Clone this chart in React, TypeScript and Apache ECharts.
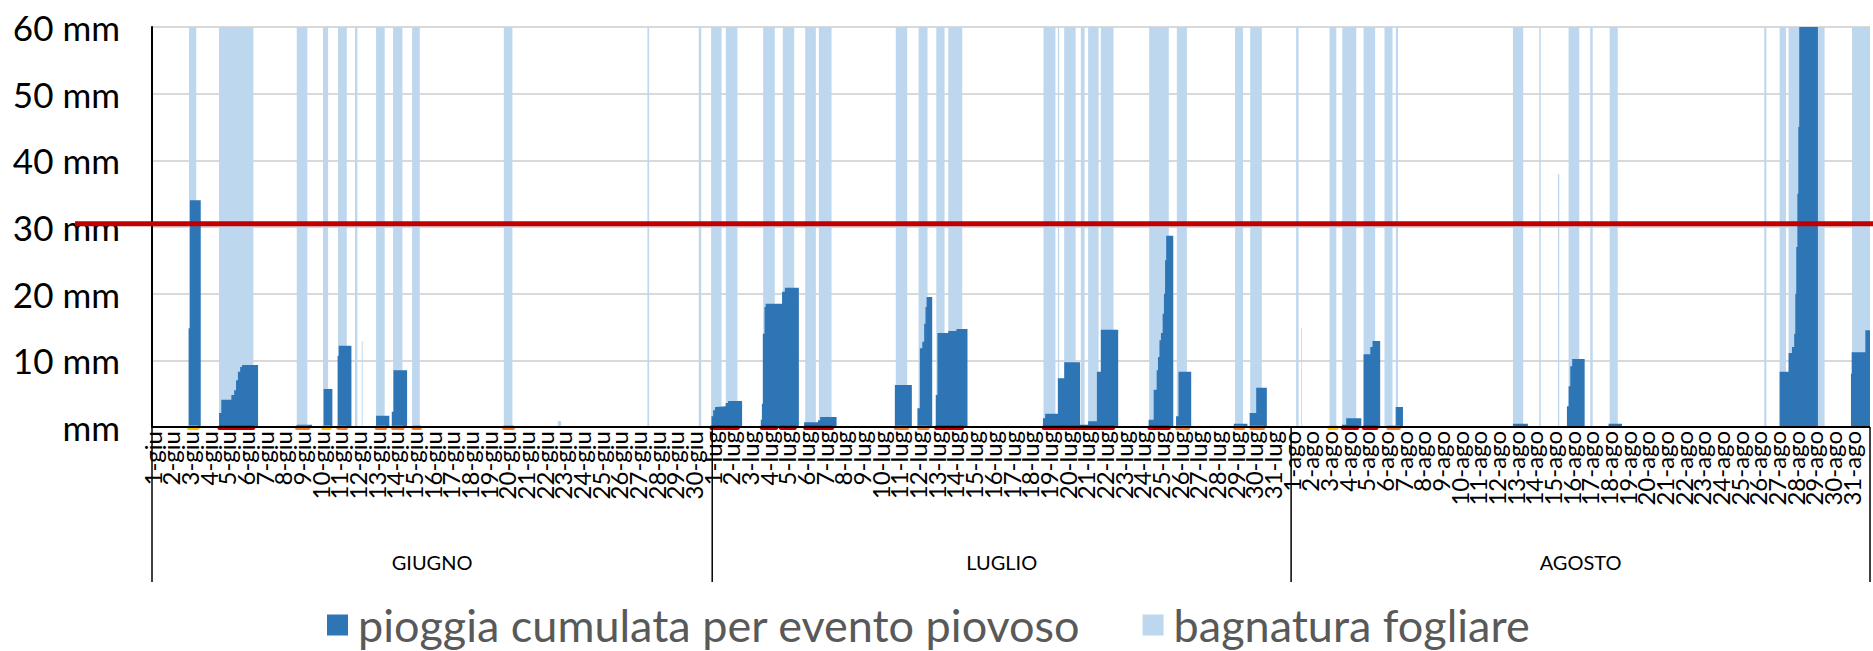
import React, { useEffect, useRef } from 'react';
import * as echarts from 'echarts';

// ---- categories / labels ----
const monthNames = ['GIUGNO', 'LUGLIO', 'AGOSTO'];
const monthAbbr = ['giu', 'lug', 'ago'];
const monthDays = [30, 31, 31];
const yTicks = [0, 10, 20, 30, 40, 50, 60];
const threshold = 30.5;

const seriesNames = ['pioggia cumulata per evento piovoso', 'bagnatura fogliare'];

// ---- leaf wetness intervals [startDay, endDay, height mm] (day 0 = 1 June 00:00) ----
const wetJune = [
  [1.98, 2.37, 60], [3.59, 5.43, 60], [7.75, 8.32, 60], [9.16, 9.43, 60], [9.96, 10.43, 60],
  [10.87, 11.0, 60], [11.23, 11.28, 12.9], [12.0, 12.46, 60], [12.91, 13.41, 60], [13.93, 14.34, 60],
  [18.84, 19.3, 60], [21.73, 21.91, 0.9], [26.53, 26.62, 60], [29.28, 29.41, 60],
];
const wetJuly = [
  [29.94, 30.5, 60], [30.73, 31.35, 60], [32.73, 33.35, 60], [33.78, 34.39, 60], [34.98, 35.55, 60],
  [35.71, 36.39, 60], [39.83, 40.44, 60], [41.05, 41.53, 60], [42.0, 42.44, 60], [42.64, 43.39, 60],
  [47.74, 48.38, 60], [48.51, 48.58, 60], [48.85, 49.46, 60], [49.74, 49.94, 60], [50.13, 50.69, 60],
  [50.81, 51.49, 60], [53.4, 54.45, 60], [54.88, 55.42, 60], [58.0, 58.42, 60], [58.81, 59.43, 60],
];
const wetAugust = [
  [61.27, 61.4, 60], [61.54, 61.58, 14.9], [63.06, 63.42, 60], [63.74, 64.49, 60], [64.88, 65.5, 60],
  [66.0, 66.43, 60], [66.61, 66.72, 60], [72.88, 73.43, 60], [74.29, 74.37, 60], [75.29, 75.36, 37.9],
  [75.86, 76.43, 60], [77.02, 77.15, 60], [78.06, 78.49, 60], [86.34, 86.45, 60], [87.16, 87.5, 60],
  [87.64, 89.57, 60], [91.04, 92, 60],
];

// ---- cumulated rain per event: step points [day, mm]; value holds until next point ----
const rainJune = [
  [1.96, 14.8], [2.03, 34.0], [2.61, 0],
  [3.59, 2.1], [3.71, 4.1], [4.25, 4.8], [4.4, 5.5], [4.5, 7.0], [4.6, 8.3], [4.72, 9.0], [4.82, 9.3], [5.68, 0],
  [7.75, 0.35], [8.57, 0],
  [9.19, 5.7], [9.66, 0],
  [9.94, 10.7], [10.0, 12.2], [10.68, 0],
  [10.8, 0.15], [11.23, 0],
  [12.0, 1.7], [12.71, 0],
  [12.84, 2.3], [12.93, 8.5], [13.66, 0],
  [13.87, 0.15], [14.5, 0],
  [18.84, 0.15], [19.44, 0],
];
const rainJuly = [
  [29.96, 1.6], [30.05, 2.5], [30.15, 3.0], [30.23, 3.1], [30.72, 3.6], [30.85, 3.9], [31.6, 0],
  [32.6, 1.1], [32.66, 3.5], [32.71, 14.0], [32.8, 18.0], [32.86, 18.5], [33.74, 20.3], [33.89, 20.9], [34.64, 0],
  [34.92, 0.7], [35.67, 1.0], [35.78, 1.5], [36.66, 0],
  [39.78, 6.3], [40.69, 0],
  [40.99, 2.8], [41.12, 11.8], [41.25, 12.8], [41.35, 15.5], [41.42, 18.0], [41.48, 19.5], [41.78, 0],
  [41.97, 4.8], [42.06, 14.1], [42.64, 14.4], [43.08, 14.7], [43.67, 0],
  [47.71, 1.3], [47.83, 2.0], [48.51, 7.3], [48.85, 9.7], [49.7, 0.35], [50.13, 0.85], [50.6, 8.3], [50.81, 14.6], [51.74, 0],
  [53.37, 1.1], [53.64, 5.6], [53.8, 8.5], [53.87, 10.5], [53.95, 13.0], [54.03, 14.1], [54.12, 17.0], [54.19, 20.0], [54.25, 25.0], [54.31, 28.7], [54.69, 0],
  [54.84, 1.6], [54.97, 8.3], [55.65, 0],
  [57.93, 0.5], [58.66, 0],
  [58.78, 2.1], [59.13, 5.9], [59.7, 0],
];
const rainAugust = [
  [63.72, 0.35], [63.95, 1.3], [64.76, 0],
  [64.88, 10.9], [65.24, 12.0], [65.36, 12.9], [65.77, 0],
  [66.6, 3.0], [66.99, 0],
  [72.88, 0.5], [73.68, 0],
  [75.77, 3.1], [75.86, 6.1], [75.95, 9.1], [76.05, 10.2], [76.72, 0],
  [78.0, 0.5], [78.72, 0],
  [87.16, 8.3], [87.64, 11.1], [87.82, 12.0], [87.94, 14.0], [88.0, 20.0], [88.05, 27.0], [88.11, 35.0], [88.16, 45.0], [88.21, 66.0], [89.21, 0],
  [90.98, 8.0], [91.02, 11.2], [91.75, 14.5], [92, 0],
];

// ---- risk level marks along the baseline [startDay, endDay, level] ----
const riskMarks = [
  [1.87, 2.55, 1], [3.5, 5.53, 3], [7.66, 8.48, 2], [9.05, 9.62, 1], [9.87, 10.5, 2], [11.93, 12.6, 2],
  [12.8, 13.53, 2], [13.89, 14.46, 2], [18.75, 19.44, 2], [29.85, 31.48, 3], [32.55, 33.53, 3],
  [33.57, 34.53, 3], [34.87, 36.53, 3], [39.72, 40.55, 2], [40.97, 41.65, 2], [41.89, 43.49, 3],
  [47.65, 51.58, 3], [53.31, 54.56, 3], [54.79, 55.6, 2], [57.9, 58.54, 2], [58.76, 59.61, 2],
  [62.94, 63.54, 1], [63.67, 64.65, 3], [64.79, 65.68, 3], [66.1, 66.88, 2],
];
const riskColors = ['', '#FFC000', '#ED7D31', '#C00000'];

const dayLabels: string[] = [];
monthDays.forEach((n, mi) => {
  for (let d = 1; d <= n; d++) dayLabels.push(`${d}-${monthAbbr[mi]}`);
});
const totalDays = monthDays.reduce((a, b) => a + b, 0);

export default function App() {
  const ref = useRef<HTMLDivElement>(null);
  useEffect(() => {
    const el = ref.current!;
    const chart = echarts.init(el, null, { renderer: 'svg' });
    const font = 'Lato, "Open Sans", sans-serif';

    const wetData: number[][] = [[0, 0]];
    [...wetJune, ...wetJuly, ...wetAugust].forEach(([s, e, v]) => {
      wetData.push([s, v], [e, 0]);
    });
    wetData.push([totalDays, 0]);
    const rainData: number[][] = [[0, 0], ...rainJune, ...rainJuly, ...rainAugust];

    chart.setOption({
      animation: false,
      grid: { left: 152, right: 3, top: 27, bottom: 224 },
      legend: {
        data: seriesNames,
        left: 322,
        top: 597,
        icon: 'rect',
        itemWidth: 21,
        itemHeight: 21,
        itemGap: 62,
        textStyle: { fontSize: 45, lineHeight: 46, color: '#595959', fontFamily: font, padding: [0, 0, 0, 5] },
      },
      xAxis: {
        type: 'value',
        min: 0,
        max: totalDays,
        interval: 1,
        axisLine: { show: false },
        axisTick: { show: false },
        splitLine: { show: false },
        axisLabel: { show: false },
      },
      yAxis: {
        type: 'value',
        min: yTicks[0],
        max: yTicks[yTicks.length - 1],
        interval: 10,
        axisLine: { show: true, lineStyle: { color: '#000', width: 2 } },
        axisTick: { show: false },
        splitLine: { lineStyle: { color: '#D9D9D9', width: 2 } },
        axisLabel: {
          fontSize: 35,
          color: '#000',
          fontFamily: font,
          margin: 32,
          formatter: (v: number) => (v === 0 ? 'mm' : `${v} mm`),
        },
      },
      series: [
        {
          name: seriesNames[1],
          type: 'line',
          step: 'end',
          data: wetData,
          symbol: 'none',
          lineStyle: { width: 0 },
          itemStyle: { color: '#BDD7EE' },
          areaStyle: { color: '#BDD7EE', opacity: 1 },
          z: 2,
        },
        {
          name: seriesNames[0],
          type: 'line',
          step: 'end',
          data: rainData,
          symbol: 'none',
          lineStyle: { width: 0 },
          itemStyle: { color: '#2E75B6' },
          areaStyle: { color: '#2E75B6', opacity: 1 },
          z: 3,
        },
      ],
    });

    const px = (d: number, v: number) => chart.convertToPixel({ gridIndex: 0 }, [d, v]) as number[];
    const [, y0] = px(0, 0);
    const [, yTh] = px(0, threshold);
    const xEnd = px(totalDays, 0)[0];
    const graphics: any[] = [];

    riskMarks.forEach(([s, e, lvl]) => {
      const a = px(s, 0)[0];
      const b = px(e, 0)[0];
      graphics.push({
        type: 'rect',
        shape: { x: a, y: y0 - 1.5, width: b - a, height: 4.5, r: 2 },
        style: { fill: riskColors[lvl] },
        z: 10,
      });
    });

    graphics.push({
      type: 'line',
      shape: { x1: px(0, 0)[0], y1: y0, x2: xEnd, y2: y0 },
      style: { stroke: '#000', lineWidth: 2 },
      z: 11,
    });

    // day labels, rotated, reading bottom-to-top, ending at the axis
    dayLabels.forEach((lab, i) => {
      const x = px(i, 0)[0];
      graphics.push({
        type: 'text',
        x: x,
        y: y0 + 4,
        rotation: Math.PI / 2,
        style: {
          text: lab,
          fontSize: 24,
          fontFamily: font,
          fill: '#000',
          textAlign: 'right',
          textVerticalAlign: 'middle',
        },
        z: 11,
      });
    });

    let acc = 0;
    const bounds = [0];
    monthDays.forEach((n) => { acc += n; bounds.push(acc); });
    bounds.forEach((b) => {
      const x = px(b, 0)[0];
      graphics.push({
        type: 'line',
        shape: { x1: x, y1: y0, x2: x, y2: 582 },
        style: { stroke: '#000', lineWidth: 1.5 },
        z: 11,
      });
    });
    monthNames.forEach((m, i) => {
      const xc = (px(bounds[i], 0)[0] + px(bounds[i + 1], 0)[0]) / 2;
      graphics.push({
        type: 'text',
        x: xc,
        y: 562,
        style: { text: m, fontSize: 20, fontFamily: font, fill: '#000', textAlign: 'center', textVerticalAlign: 'middle' },
        z: 11,
      });
    });

    graphics.push({
      type: 'line',
      shape: { x1: 75, y1: yTh, x2: 1873, y2: yTh },
      style: { stroke: '#C00000', lineWidth: 5 },
      z: 12,
    });

    chart.setOption({ graphic: graphics });

    return () => chart.dispose();
  }, []);

  return (
    <div
      ref={ref}
      style={{ position: 'absolute', left: 0, top: 0, width: 1873, height: 651 }}
    />
  );
}
